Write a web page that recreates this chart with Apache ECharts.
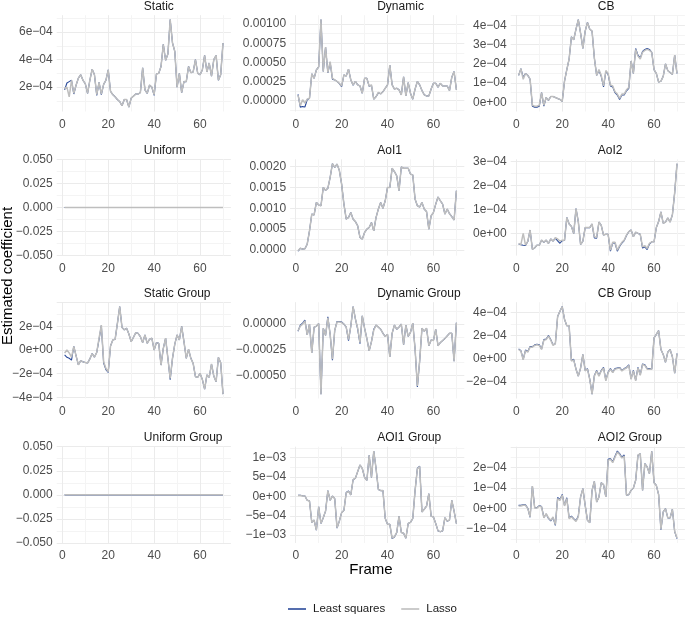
<!DOCTYPE html>
<html><head><meta charset="utf-8">
<script src="https://cdn.jsdelivr.net/npm/echarts@6/dist/echarts.min.js"></script>
<style>html,body{margin:0;padding:0;background:#fff}#c{width:685px;height:617px}</style>
</head><body><div id="c"></div>
<script>
const frames = [1,2,3,4,5,6,7,8,9,10,11,12,13,14,15,16,17,18,19,20,21,22,23,24,25,26,27,28,29,30,31,32,33,34,35,36,37,38,39,40,41,42,43,44,45,46,47,48,49,50,51,52,53,54,55,56,57,58,59,60,61,62,63,64,65,66,67,68,69,70];
const seriesNames = ['Least squares', 'Lasso'];
const panelTitles = ['Static','Dynamic','CB','Uniform','AoI1','AoI2','Static Group','Dynamic Group','CB Group','Uniform Group','AOI1 Group','AOI2 Group'];

// values in units of 1e-4
const staticLasso = [1.9,2.0,1.3,2.5,1.55,2.15,2.65,2.9,2.5,2.25, 1.55,2.5,3.3,2.9,1.45,2.35,1.5,2.2,2.5,3.25, 1.7,1.45,1.3,1.1,0.95,0.65,1.1,1.1,0.55,1.2, 1.35,1.5,1.5,1.6,3.4,1.8,1.55,2.15,2.0,1.45, 2.95,3.0,3.5,5.1,3.95,4.4,6.9,5.2,4.6,2.0, 3.0,1.6,2.4,2.4,3.5,3.05,3.1,4.0,3.0,2.9, 3.25,4.3,3.1,3.75,2.8,4.0,4.3,2.5,2.9,5.2];
const staticLS = [1.8,2.3,2.4,2.5,1.5,2.15,2.65,2.9,2.5,2.25, 1.55,2.5,3.3,2.9,1.4,2.35,1.45,2.2,2.5,3.25, 1.7,1.45,1.3,1.1,0.95,0.65,1.1,1.1,0.55,1.2, 1.35,1.5,1.5,1.6,3.4,1.8,1.55,2.15,2.0,1.4, 2.95,3.0,3.5,5.1,3.95,4.4,6.9,5.2,4.6,2.0, 3.0,1.6,2.4,2.4,3.5,3.05,3.1,4.0,3.0,2.9, 3.25,4.3,3.1,3.75,2.8,4.0,4.3,2.5,2.9,5.2];
// units of 1e-4
const dynamicLasso = [0.7,-0.7,0.1,-0.35,0.17,0.3,3.5,2.9,4.0,4.4, 10.6,3.8,7.0,3.65,5.1,2.9,2.7,2.5,2.25,1.9, 3.35,3.2,4.1,2.7,2.05,2.5,2.05,1.9,0.95,2.9, 2.9,1.9,2.05,0.17,0.5,1.05,0.87,1.15,1.6,2.05, 4.65,2.05,1.5,1.6,1.4,0.74,3.1,0.6,2.35,0.95, 0.17,1.5,2.5,2.05,1.3,0.74,0.6,0.6,1.5,2.25, 2.25,1.75,2.25,1.9,1.9,1.9,1.3,3.05,3.8,1.4];
const dynamicLS = [0.8,-0.87,-0.8,-0.85,0.1,0.3,3.5,2.9,4.0,4.4, 10.6,3.8,7.0,3.6,5.0,2.8,2.7,2.5,2.2,1.8, 3.35,3.2,4.1,2.7,2.0,2.5,2.05,1.9,0.95,2.9, 2.9,1.85,2.0,0.17,0.5,1.0,0.87,1.15,1.6,2.05, 4.65,2.05,1.5,1.6,1.4,0.74,3.1,0.6,2.35,0.95, 0.17,1.5,2.5,2.05,1.3,0.74,0.6,0.6,1.5,2.25, 2.25,1.75,2.25,1.9,1.9,1.9,1.3,3.05,3.8,1.4];
// units of 1e-4
const cbLasso = [1.4,1.75,1.2,1.5,1.4,1.2,-0.15,-0.2,-0.2,-0.15, 0.5,-0.15,0.25,0.1,0.3,0.3,0.25,0.2,0.15,0.05, 1.1,1.7,2.25,3.4,3.25,3.8,4.3,3.6,2.8,3.7, 4.15,3.8,3.7,2.3,1.4,1.7,1.4,0.85,1.65,1.5, 0.9,0.85,0.55,0.43,0.2,0.43,0.43,0.65,0.77,2.15, 1.5,2.75,2.4,2.25,2.6,2.7,2.75,2.7,2.6,1.7, 1.5,1.05,1.1,1.35,2.0,1.65,1.55,1.45,2.45,1.5];
const cbLS = [1.4,1.75,1.3,1.5,1.4,1.2,-0.2,-0.25,-0.25,-0.2, 0.5,-0.2,0.25,0.1,0.3,0.3,0.25,0.2,0.15,0.05, 1.1,1.7,2.25,3.4,3.25,3.8,4.3,3.6,2.8,3.7, 4.15,3.8,3.7,2.3,1.4,1.65,1.35,0.8,1.6,1.45, 0.85,0.8,0.5,0.38,0.15,0.38,0.38,0.6,0.72,2.15, 1.5,2.8,2.45,2.3,2.65,2.75,2.8,2.75,2.6,1.7, 1.5,1.05,1.1,1.35,2.0,1.65,1.55,1.45,2.45,1.5];
const uniformLasso = [0,0,0,0,0,0,0,0,0,0, 0,0,0,0,0,0,0,0,0,0, 0,0,0,0,0,0,0,0,0,0, 0,0,0,0,0,0,0,0,0,0, 0,0,0,0,0,0,0,0,0,0, 0,0,0,0,0,0,0,0,0,0, 0,0,0,0,0,0,0,0,0,0];
const uniformLS = [0,0,0,0,0,0,0,0,0,0, 0,0,0,0,0,0,0,0,0,0, 0,0,0,0,0,0,0,0,0,0, 0,0,0,0,0,0,0,0,0,0, 0,0,0,0,0,0,0,0,0,0, 0,0,0,0,0,0,0,0,0,0, 0,0,0,0,0,0,0,0,0,0];
// units of 1e-3
const aoi1Lasso = [-0.02,0.04,0.02,0.03,0.14,0.46,0.86,0.84,1.14,1.08, 1.06,1.5,1.43,1.48,1.74,2.07,1.98,2.06,1.91,1.58, 1.1,0.74,0.78,0.9,0.74,0.68,0.58,0.3,0.26,0.42, 0.5,0.54,0.66,0.46,0.78,0.98,1.14,1.0,1.18,1.5, 1.5,1.96,1.88,1.78,1.42,1.99,1.96,1.96,1.96,1.82, 1.8,1.22,1.06,1.03,1.14,0.98,0.92,0.5,0.82,0.9, 1.1,1.27,1.18,1.1,0.86,0.98,0.87,0.8,0.72,1.42];
const aoi1LS = [-0.03,0.04,0.02,0.03,0.14,0.46,0.86,0.84,1.14,1.08, 1.06,1.5,1.43,1.48,1.74,2.07,1.98,2.06,1.91,1.58, 1.1,0.74,0.78,0.9,0.74,0.68,0.58,0.3,0.26,0.42, 0.5,0.54,0.66,0.46,0.78,0.98,1.14,1.0,1.18,1.5, 1.5,1.96,1.88,1.78,1.42,1.99,1.96,1.96,1.96,1.82, 1.8,1.22,1.06,1.03,1.14,0.98,0.92,0.5,0.82,0.9, 1.1,1.27,1.18,1.1,0.86,0.98,0.87,0.8,0.72,1.42];
// units of 1e-5
const aoi2Lasso = [-4.1,-4.5,0.1,-4.8,-3.1,1.5,-6.5,-5.9,-4.8,-4.8, -2.7,-3.6,-2.7,-4.1,-2.2,-3.1,-1.7,-2.2,-3.1,-2.7, -2.7,6.7,4.0,3.0,0.0,10.4,5.0,-4.5,-3.1,2.5, 2.5,2.5,4.0,-1.3,-1.5,4.8,3.4,-0.6,-0.3,-0.3, -6.9,-3.6,-3.6,-6.9,-5.0,-3.6,-2.7,-0.6,0.8,1.5, -1.3,0.6,0.1,-0.3,-5.5,-5.0,-6.2,-4.0,-3.4,-3.4, 2.5,5.0,9.0,4.3,4.8,6.5,4.8,7.8,17.0,29.0];
const aoi2LS = [-4.3,-4.6,-4.8,-4.9,-3.3,1.5,-6.5,-5.9,-4.8,-4.8, -2.7,-3.6,-2.7,-4.1,-2.2,-3.1,-1.9,-3.0,-4.0,-2.9, -2.8,6.7,4.0,3.0,0.0,10.4,5.0,-4.5,-3.1,2.5, 2.5,2.5,4.0,-1.8,-1.9,4.8,3.4,-0.6,-0.3,-0.3, -7.3,-3.9,-3.9,-7.3,-5.3,-3.9,-2.9,-0.8,0.8,1.5, -1.3,0.6,0.1,-0.3,-6.0,-5.5,-6.6,-4.3,-3.4,-3.4, 2.5,5.0,9.0,4.3,4.8,6.5,4.8,7.8,17.0,29.0];
// units of 1e-4
const staticGroupLasso = [-0.25,0.0,-0.25,-0.6,0.3,-0.5,-1.25,-0.9,-1.0,-1.05, -1.1,-0.75,-0.3,-0.6,-0.2,1.0,2.1,-1.0,-1.55,-1.83, 0.34,0.85,0.9,2.25,3.66,1.9,1.7,1.83,1.35,0.7, 1.07,1.46,1.4,1.13,0.62,1.27,0.56,0.9,1.0,0.0, 0.62,0.56,-1.27,0.14,1.0,-0.7,-2.4,-0.7,0.5,1.27, 0.85,2.0,0.7,-0.7,0.06,-0.7,-1.13,-2.25,-2.3,-1.97, -2.48,-3.3,-2.1,-2.3,-1.18,-2.2,-2.68,-0.62,-1.07,-3.72];
const staticGroupLS = [-0.42,-0.62,-0.7,-0.85,0.3,-0.5,-1.25,-0.9,-1.0,-1.05, -1.1,-0.75,-0.3,-0.6,-0.2,0.9,2.05,-1.1,-1.65,-1.9, 0.34,0.85,0.9,2.25,3.66,1.9,1.7,1.83,1.35,0.7, 1.07,1.46,1.4,1.13,0.62,1.27,0.56,0.9,1.0,0.0, 0.62,0.56,-1.27,0.14,1.0,-0.7,-2.5,-0.7,0.5,1.27, 0.85,2.0,0.7,-0.7,0.06,-0.7,-1.13,-2.25,-2.3,-1.97, -2.48,-3.3,-2.1,-2.3,-1.18,-2.2,-2.68,-0.62,-1.07,-3.72];
// units of 1e-4
const dynamicGroupLasso = [-0.65,-0.2,0.0,0.3,-1.05,0.0,-2.8,-0.3,-0.2,0.05, -6.8,-0.4,-1.1,0.6,-1.0,-3.4,-0.6,0.2,0.2,0.15, 0.0,-0.3,-1.5,-0.2,1.7,0.5,-0.4,-1.8,0.8,-0.4, -1.4,-2.6,-1.7,-0.6,-0.1,-0.3,-0.5,-0.9,-1.2,-1.0, -3.2,-0.9,-0.1,-0.5,-0.3,0.0,-2.0,-0.1,-1.2,-0.8, 0.1,-2.4,-6.0,-3.6,-0.4,-0.7,-0.4,-2.1,-1.55,-1.6, -0.5,-2.1,-1.8,-1.6,-1.4,-1.15,-0.9,-0.9,-3.6,0.13];
const dynamicGroupLS = [-0.7,-0.1,0.1,0.4,-1.05,0.0,-2.8,-0.3,-0.2,0.05, -6.8,-0.4,-1.1,0.7,-1.0,-3.5,-0.6,0.25,0.25,0.2, 0.0,-0.3,-1.6,-0.2,1.7,0.5,-0.5,-1.9,0.8,-0.4, -1.4,-2.6,-1.7,-0.5,-0.1,-0.3,-0.5,-0.9,-1.2,-1.0, -3.2,-0.9,-0.1,-0.5,-0.3,0.0,-2.0,-0.1,-1.2,-0.8, 0.1,-2.4,-6.1,-3.6,-0.4,-0.7,-0.4,-2.1,-1.55,-1.6, -0.5,-2.1,-1.8,-1.6,-1.4,-1.15,-0.9,-0.9,-3.6,0.13];
// units of 1e-4
const cbGroupLasso = [0.8,0.65,-0.1,0.7,0.57,1.0,1.0,1.15,1.2,1.15, 0.8,1.6,1.65,1.95,1.6,1.15,1.3,3.65,4.1,4.5, 3.4,2.85,2.85,-0.2,-0.1,-0.9,-1.5,-0.8,0.37,-1.05, -0.9,-1.8,-3.05,-1.5,-1.05,-1.5,-1.05,-0.8,-1.9,-1.2, -0.9,-1.2,-0.9,-0.85,-0.8,-1.05,-0.9,-0.8,-0.57,-1.77, -1.05,-1.9,-0.8,-1.43,-0.5,-0.57,-0.9,-0.9,-0.9,1.8, 2.1,2.43,0.8,0.37,-0.3,0.57,0.8,0.17,-1.25,0.45];
const cbGroupLS = [0.85,0.7,-0.05,0.75,0.62,1.05,1.05,1.2,1.25,1.2, 0.85,1.65,1.7,2.0,1.65,1.2,1.3,3.65,4.1,4.5, 3.4,2.85,2.85,-0.15,-0.05,-0.9,-1.5,-0.8,0.37,-1.0, -0.85,-1.75,-3.05,-1.45,-1.0,-1.45,-1.0,-0.75,-1.85,-1.15, -0.85,-1.15,-0.85,-0.8,-0.75,-1.0,-0.85,-0.75,-0.52,-1.72, -1.0,-1.85,-0.75,-1.38,-0.45,-0.52,-0.85,-0.85,-0.9,1.8, 2.1,2.43,0.8,0.37,-0.3,0.57,0.8,0.17,-1.25,0.45];
const uniformGroupLasso = [0,0,0,0,0,0,0,0,0,0, 0,0,0,0,0,0,0,0,0,0, 0,0,0,0,0,0,0,0,0,0, 0,0,0,0,0,0,0,0,0,0, 0,0,0,0,0,0,0,0,0,0, 0,0,0,0,0,0,0,0,0,0, 0,0,0,0,0,0,0,0,0,0];
const uniformGroupLS = [0,0,0,0,0,0,0,0,0,0, 0,0,0,0,0,0,0,0,0,0, 0,0,0,0,0,0,0,0,0,0, 0,0,0,0,0,0,0,0,0,0, 0,0,0,0,0,0,0,0,0,0, 0,0,0,0,0,0,0,0,0,0, 0,0,0,0,0,0,0,0,0,0];
// units of 1e-4
const aoi1GroupLasso = [0.25,0.25,0.1,0.1,-1.0,-1.2,-6.7,-6.1,-8.7,-2.7, -7.0,-5.5,-3.8,1.5,-1.0,0.1,-0.6,-8.1,-6.4,-4.2, -3.6,0.9,1.3,0.4,4.3,4.7,6.4,8.1,7.2,4.9, 4.1,10.6,4.9,11.7,7.2,1.8,1.5,1.5,-5.7,-7.2, -7.2,-10.8,-10.4,-9.3,-5.1,-9.3,-9.5,-10.8,-7.0,-6.7, -5.7,1.5,7.1,7.7,-4.0,-3.3,-2.5,0.7,-5.1,-5.3, -7.0,-8.9,-9.1,-8.9,-5.5,-6.4,-6.1,-1.0,-3.8,-7.0];
const aoi1GroupLS = [0.3,0.3,0.15,0.1,-1.0,-1.2,-6.7,-6.1,-8.7,-2.7, -7.0,-5.5,-3.8,1.5,-1.0,0.1,-0.6,-8.2,-6.4,-4.2, -3.6,1.0,1.4,0.4,4.3,4.7,6.4,8.1,7.2,4.9, 4.1,10.6,4.9,11.7,7.2,1.8,1.5,1.5,-5.7,-7.2, -7.2,-10.9,-10.5,-9.4,-5.1,-9.3,-9.5,-10.8,-7.0,-6.7, -5.7,1.5,7.2,7.8,-4.0,-3.3,-2.5,0.7,-5.1,-5.3, -7.0,-8.9,-9.1,-8.9,-5.5,-6.4,-6.1,-1.0,-3.8,-7.0];
// units of 1e-5
const aoi2GroupLasso = [1.3,1.3,1.6,1.6,0.0,-4.0,11.0,0.3,0.3,1.3, 0.8,-4.5,-2.4,-4.5,-5.7,-4.0,-7.8,4.9,4.0,6.5, 1.3,4.9,-4.9,-4.0,-5.2,-6.2,-4.0,5.7,9.7,1.6, -5.7,-6.8,8.9,13.3,3.2,5.7,12.6,11.7,5.7,23.5, 24.0,22.4,25.0,27.5,26.3,24.6,25.6,6.5,6.8,8.9, 10.0,13.8,26.0,26.7,8.9,21.9,20.3,17.0,27.9,12.6, 11.3,6.8,-10.0,-1.6,0.0,-4.5,-4.5,-0.3,-11.0,-14.3];
const aoi2GroupLS = [1.6,1.6,1.9,1.8,0.2,-4.2,11.0,0.5,0.5,1.5, 1.0,-4.3,-2.6,-4.8,-6.0,-4.3,-8.2,5.4,4.4,6.9, 1.6,5.3,-4.5,-3.7,-4.9,-5.9,-3.6,5.7,9.7,1.6, -5.7,-6.8,8.9,13.3,3.2,5.7,12.6,11.7,5.7,24.0, 24.4,22.8,25.5,28.0,26.8,25.0,26.1,6.5,6.8,8.9, 10.0,13.8,26.0,26.7,8.9,21.9,20.3,17.0,27.9,12.6, 11.3,6.8,-10.3,-1.6,0.0,-4.5,-4.5,-0.3,-11.2,-14.6];

const unitStatic = 1e-4, unitDynamic = 1e-4, unitCB = 1e-4, unitUniform = 1, unitAoi1 = 1e-3, unitAoi2 = 1e-5;
const unitStaticGroup = 1e-4, unitDynamicGroup = 1e-4, unitCBGroup = 1e-4, unitUniformGroup = 1, unitAoi1Group = 1e-4, unitAoi2Group = 1e-5;

const staticTicks = [2e-4,4e-4,6e-4], staticTickLabels = ['2e\u221204','4e\u221204','6e\u221204'];
const dynamicTicks = [0,0.00025,0.0005,0.00075,0.001], dynamicTickLabels = ['0.00000','0.00025','0.00050','0.00075','0.00100'];
const cbTicks = [0,1e-4,2e-4,3e-4,4e-4], cbTickLabels = ['0e+00','1e\u221204','2e\u221204','3e\u221204','4e\u221204'];
const uniformTicks = [-0.05,-0.025,0,0.025,0.05], uniformTickLabels = ['\u22120.050','\u22120.025','0.000','0.025','0.050'];
const aoi1Ticks = [0,0.0005,0.001,0.0015,0.002], aoi1TickLabels = ['0.0000','0.0005','0.0010','0.0015','0.0020'];
const aoi2Ticks = [0,1e-4,2e-4,3e-4], aoi2TickLabels = ['0e+00','1e\u221204','2e\u221204','3e\u221204'];
const staticGroupTicks = [-4e-4,-2e-4,0,2e-4], staticGroupTickLabels = ['\u22124e\u221204','\u22122e\u221204','0e+00','2e\u221204'];
const dynamicGroupTicks = [-0.0005,-0.00025,0], dynamicGroupTickLabels = ['\u22120.00050','\u22120.00025','0.00000'];
const cbGroupTicks = [-2e-4,0,2e-4,4e-4], cbGroupTickLabels = ['\u22122e\u221204','0e+00','2e\u221204','4e\u221204'];
const aoi1GroupTicks = [-1e-3,-5e-4,0,5e-4,1e-3], aoi1GroupTickLabels = ['\u22121e\u221203','\u22125e\u221204','0e+00','5e\u221204','1e\u221203'];
const aoi2GroupTicks = [-1e-4,0,1e-4,2e-4], aoi2GroupTickLabels = ['\u22121e\u221204','0e+00','1e\u221204','2e\u221204'];
const xTicks = [0,20,40,60], xTickLabels = ['0','20','40','60'];

const panels = [
  {ls: staticLS, lasso: staticLasso, unit: unitStatic, ticks: staticTicks, labels: staticTickLabels},
  {ls: dynamicLS, lasso: dynamicLasso, unit: unitDynamic, ticks: dynamicTicks, labels: dynamicTickLabels},
  {ls: cbLS, lasso: cbLasso, unit: unitCB, ticks: cbTicks, labels: cbTickLabels},
  {ls: uniformLS, lasso: uniformLasso, unit: unitUniform, ticks: uniformTicks, labels: uniformTickLabels, fixed: [-0.05, 0.05]},
  {ls: aoi1LS, lasso: aoi1Lasso, unit: unitAoi1, ticks: aoi1Ticks, labels: aoi1TickLabels},
  {ls: aoi2LS, lasso: aoi2Lasso, unit: unitAoi2, ticks: aoi2Ticks, labels: aoi2TickLabels},
  {ls: staticGroupLS, lasso: staticGroupLasso, unit: unitStaticGroup, ticks: staticGroupTicks, labels: staticGroupTickLabels},
  {ls: dynamicGroupLS, lasso: dynamicGroupLasso, unit: unitDynamicGroup, ticks: dynamicGroupTicks, labels: dynamicGroupTickLabels},
  {ls: cbGroupLS, lasso: cbGroupLasso, unit: unitCBGroup, ticks: cbGroupTicks, labels: cbGroupTickLabels},
  {ls: uniformGroupLS, lasso: uniformGroupLasso, unit: unitUniformGroup, ticks: uniformTicks, labels: uniformTickLabels, fixed: [-0.05, 0.05]},
  {ls: aoi1GroupLS, lasso: aoi1GroupLasso, unit: unitAoi1Group, ticks: aoi1GroupTicks, labels: aoi1GroupTickLabels},
  {ls: aoi2GroupLS, lasso: aoi2GroupLasso, unit: unitAoi2Group, ticks: aoi2GroupTicks, labels: aoi2GroupTickLabels}
];

// layout
const colLeft = [56.7, 290.1, 510.7];
const rowTop = [15.2, 159.3, 302.2, 446.7];
const panelW = 174.2, panelH = 96.3;
const MAJOR = '#EBEBEB', MINOR = '#F4F4F4';
const FONT = '"Liberation Sans", Arial, Helvetica, sans-serif';
const LS_COLOR = '#2A4A9A', LASSO_COLOR = '#BEBEBE';

function gridValues(min, max, step) {
  const half = step / 2, out = [];
  const k0 = Math.ceil(min / half - 1e-9), k1 = Math.floor(max / half + 1e-9);
  for (let k = k0; k <= k1; k++) out.push({v: +(k * half).toPrecision(12), major: k % 2 === 0});
  return out;
}

const grids = [], xAxes = [], yAxes = [], series = [], graphics = [];
panels.forEach((p, i) => {
  const r = Math.floor(i / 3), c = i % 3;
  const left = colLeft[c], top = rowTop[r];
  grids.push({left: left, top: top, width: panelW, height: panelH, containLabel: false});
  const xmin = 1 - 0.05 * 69, xmax = 70 + 0.05 * 69;
  const xg = gridValues(xmin, xmax, 20);
  xAxes.push({
    gridIndex: i, type: 'value', min: xmin, max: xmax,
    axisLine: {show: false},
    axisTick: {show: false, customValues: xg.map(g => g.v)},
    axisLabel: {customValues: xTicks, formatter: v => xTickLabels[xTicks.indexOf(Math.round(v))] || '',
      color: '#4D4D4D', fontSize: 12, fontFamily: FONT, margin: 7},
    splitLine: {show: true, lineStyle: {width: 1, color: xg[0].major ? [MAJOR, MINOR] : [MINOR, MAJOR]}}
  });
  const vals = p.ls.concat(p.lasso).map(v => v * p.unit);
  let ymin, ymax;
  if (p.fixed) { ymin = p.fixed[0]; ymax = p.fixed[1]; }
  else {
    const lo = Math.min.apply(null, vals), hi = Math.max.apply(null, vals);
    ymin = lo - 0.05 * (hi - lo); ymax = hi + 0.05 * (hi - lo);
  }
  const step = p.ticks[1] - p.ticks[0];
  const yg = gridValues(ymin, ymax, step);
  const lbl = v => {
    let best = 0;
    p.ticks.forEach((t, j) => { if (Math.abs(t - v) < Math.abs(p.ticks[best] - v)) best = j; });
    return p.labels[best];
  };
  yAxes.push({
    gridIndex: i, type: 'value', min: ymin, max: ymax,
    axisLine: {show: false},
    axisTick: {show: false, customValues: yg.map(g => g.v)},
    axisLabel: {customValues: p.ticks.filter(t => t >= ymin - 1e-12 && t <= ymax + 1e-12), formatter: lbl,
      color: '#4D4D4D', fontSize: 12, fontFamily: FONT, margin: 4},
    splitLine: {show: true, lineStyle: {width: 1, color: yg[0].major ? [MAJOR, MINOR] : [MINOR, MAJOR]}}
  });
  series.push({
    name: seriesNames[0], type: 'line', xAxisIndex: i, yAxisIndex: i, showSymbol: false, silent: true,
    lineStyle: {color: LS_COLOR, width: 1.1}, itemStyle: {color: LS_COLOR},
    data: frames.map((f, j) => [f, p.ls[j] * p.unit]), z: 2
  });
  series.push({
    name: seriesNames[1], type: 'line', xAxisIndex: i, yAxisIndex: i, showSymbol: false, silent: true,
    lineStyle: {color: LASSO_COLOR, width: 1.5}, itemStyle: {color: LASSO_COLOR},
    data: frames.map((f, j) => [f, p.lasso[j] * p.unit]), z: 3
  });
  graphics.push({
    type: 'text', left: left + panelW / 2, top: top - 15, silent: true,
    style: {text: panelTitles[i], fill: '#1A1A1A', font: '12px ' + FONT, textAlign: 'center'}
  });
});

graphics.push({
  type: 'text', silent: true, x: 8, y: 276, rotation: Math.PI / 2,
  style: {text: 'Estimated coefficient', fill: '#000', font: '15px ' + FONT, textAlign: 'center', textVerticalAlign: 'middle'}
});
graphics.push({
  type: 'text', silent: true, x: 371, y: 570,
  style: {text: 'Frame', fill: '#000', font: '15px ' + FONT, textAlign: 'center', textVerticalAlign: 'middle'}
});

const chart = echarts.init(document.getElementById('c'), null, {renderer: 'canvas'});
chart.setOption({
  animation: false,
  backgroundColor: '#fff',
  grid: grids, xAxes: undefined, xAxis: xAxes, yAxis: yAxes, series: series,
  graphic: graphics,
  legend: {
    data: seriesNames, top: 598, left: 283, icon: 'rect', itemWidth: 18, itemHeight: 1.6, itemGap: 16,
    textStyle: {fontSize: 11.5, color: '#1A1A1A', fontFamily: FONT, padding: [0, 0, 0, 2]}
  }
});
</script></body></html>
